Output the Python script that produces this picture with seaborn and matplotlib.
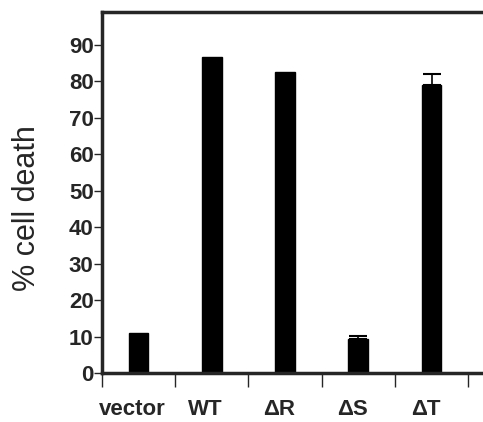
import numpy as np
import matplotlib
matplotlib.use('Agg')
import matplotlib.pyplot as plt
import matplotlib.transforms as mtransforms
import seaborn as sns

# values
groups = ['vector', 'WT', '\u0394R', '\u0394S', '\u0394T']
cell_death = [11.0, 86.5, 82.4, 9.3, 79.0]
err_up = [0.0, 0.0, 0.0, 0.9, 2.9]
yticks = [0, 10, 20, 30, 40, 50, 60, 70, 80, 90]

sns.set_style('ticks')
plt.rcParams['font.family'] = ['Liberation Sans', 'DejaVu Sans']

fig = plt.figure(figsize=(4.83, 4.22), dpi=100)
# axes runs past the right edge of the picture, as in the original
ax = fig.add_axes([0.211, 0.116, 0.91, 0.856])

sns.barplot(x=groups, y=cell_death, color='black', width=0.27, ax=ax,
            saturation=1, edgecolor='black')

# upper-only error bars
pos = np.arange(len(groups))
has_err = np.array(err_up) > 0
ax.errorbar(pos[has_err], np.array(cell_death)[has_err],
            yerr=[np.zeros(has_err.sum()), np.array(err_up)[has_err]],
            fmt='none', ecolor='black', elinewidth=1.2, capsize=6.5, capthick=1.5)

ax.set_xlim(-0.5, 5.5)
ax.set_ylim(0, 99)
ax.set_yticks(yticks)
ax.set_yticklabels([str(t) for t in yticks], fontsize=16, fontweight='bold')
ax.tick_params(axis='y', direction='out', length=6, width=1, pad=0)

# labels on categories, tick marks between them
ax.set_xticks(pos)
ax.set_xticklabels(groups, fontsize=16, fontweight='bold')
ax.set_xticks(np.arange(-0.5, 5.0, 1.0), minor=True)
ax.tick_params(axis='x', which='major', length=0, pad=19)
ax.tick_params(axis='x', which='minor', direction='out', length=10, width=1)
shift = mtransforms.ScaledTranslation(-6 / 100, 0, fig.dpi_scale_trans)
for lab in ax.get_xticklabels():
    lab.set_transform(lab.get_transform() + shift)

ax.set_ylabel('% cell death', fontsize=22)
ax.yaxis.set_label_coords(42 / 483, 1 - 208 / 422, transform=fig.transFigure)
ax.set_xlabel('')

for side in ['left', 'bottom', 'top']:
    ax.spines[side].set_linewidth(2.5)
ax.spines['right'].set_visible(False)

fig.savefig('out.png', dpi=100)
plt.close()
